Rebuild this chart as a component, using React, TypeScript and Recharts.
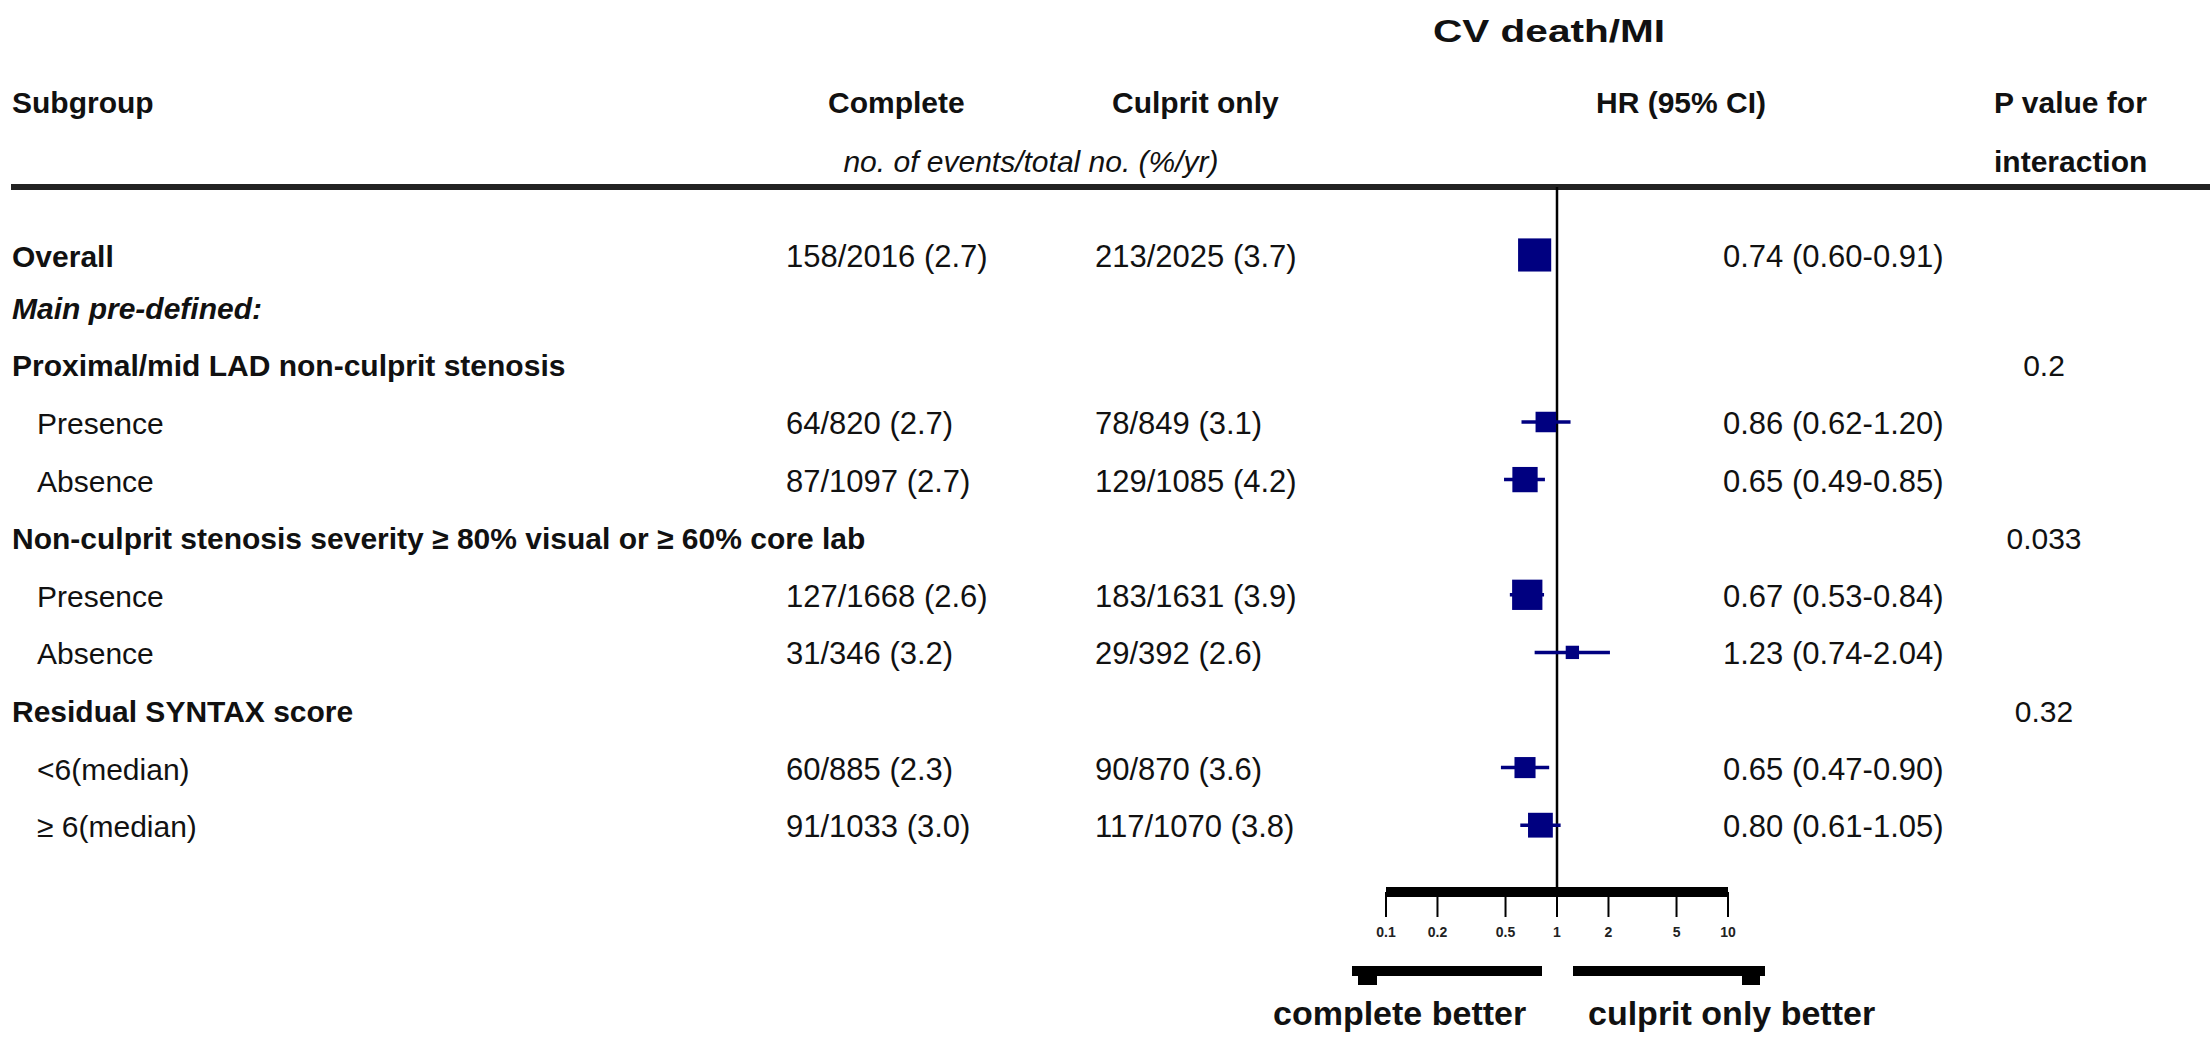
import React from "react";
import { ScatterChart, Scatter, XAxis, YAxis, ReferenceLine, ErrorBar, Customized } from "recharts";

const W = 2210;
const H = 1038;
const FONT = '"Liberation Sans", Arial, Helvetica, sans-serif';
const NAVY = "#000080";

// one entry per table row, top to bottom
const rowLabels = [
  "Overall",
  "Main pre-defined:",
  "Proximal/mid LAD non-culprit stenosis",
  "Presence",
  "Absence",
  "Non-culprit stenosis severity ≥ 80% visual or ≥ 60% core lab",
  "Presence",
  "Absence",
  "Residual SYNTAX score",
  "<6(median)",
  "≥ 6(median)",
];
const rowKind = ["bold", "italic", "bold", "sub", "sub", "bold", "sub", "sub", "bold", "sub", "sub"];
// Overall sits a little apart from the subgroup block
const rowPos = [0.1, 1, 2, 3, 4, 5, 6, 7, 8, 9, 10];

const completeEvents = [158, null, null, 64, 87, null, 127, 31, null, 60, 91];
const completeTotal = [2016, null, null, 820, 1097, null, 1668, 346, null, 885, 1033];
const completeRate = [2.7, null, null, 2.7, 2.7, null, 2.6, 3.2, null, 2.3, 3.0];

const culpritEvents = [213, null, null, 78, 129, null, 183, 29, null, 90, 117];
const culpritTotal = [2025, null, null, 849, 1085, null, 1631, 392, null, 870, 1070];
const culpritRate = [3.7, null, null, 3.1, 4.2, null, 3.9, 2.6, null, 3.6, 3.8];

const hr = [0.74, null, null, 0.86, 0.65, null, 0.67, 1.23, null, 0.65, 0.8];
const ciLow = [0.6, null, null, 0.62, 0.49, null, 0.53, 0.74, null, 0.47, 0.61];
const ciHigh = [0.91, null, null, 1.2, 0.85, null, 0.84, 2.04, null, 0.9, 1.05];

const pInteraction = ["", "", "0.2", "", "", "0.033", "", "", "0.32", "", ""];

const xTicks = [0.1, 0.2, 0.5, 1, 2, 5, 10];
const rowIdx = rowLabels.map((_, i) => i);

const points = rowIdx
  .filter((i) => hr[i] != null)
  .map((i) => ({
    row: rowPos[i],
    hr: hr[i] as number,
    err: [(hr[i] as number) - (ciLow[i] as number), (ciHigh[i] as number) - (hr[i] as number)],
    events: (completeEvents[i] as number) + (culpritEvents[i] as number),
  }));

// text rows ride on the same y scale, anchored at HR = 1
const textRows = rowIdx.map((i) => ({ row: rowPos[i], hr: 1, idx: i }));

const counts = (e: number | null, t: number | null, r: number | null) =>
  e == null ? "" : `${e}/${t} (${(r as number).toFixed(1)})`;

const hrLabel = (i: number) =>
  hr[i] == null ? "" : `${hr[i]!.toFixed(2)} (${ciLow[i]!.toFixed(2)}-${ciHigh[i]!.toFixed(2)})`;

function RowText(props: any) {
  const { cy, payload } = props;
  const i = payload.idx as number;
  const base = cy + 12;
  const kind = rowKind[i];
  const labelX = kind === "sub" ? 37 : 12;
  return (
    <g fontFamily={FONT} fill="#111">
      <text
        x={labelX}
        y={base}
        fontSize={30}
        fontWeight={kind === "sub" ? 400 : 700}
        fontStyle={kind === "italic" ? "italic" : "normal"}
      >
        {rowLabels[i]}
      </text>
      <text x={786} y={base} fontSize={31}>{counts(completeEvents[i], completeTotal[i], completeRate[i])}</text>
      <text x={1095} y={base} fontSize={31}>{counts(culpritEvents[i], culpritTotal[i], culpritRate[i])}</text>
      <text x={1723} y={base} fontSize={31}>{hrLabel(i)}</text>
      <text x={2044} y={base} fontSize={30} textAnchor="middle">{pInteraction[i]}</text>
    </g>
  );
}

function BoxShape(props: any) {
  const { cx, cy, payload } = props;
  const side = 1.72 * Math.sqrt(payload.events);
  return <rect x={cx - side / 2} y={cy - side / 2} width={side} height={side} fill={NAVY} />;
}

function Header() {
  return (
    <g fontFamily={FONT} fill="#111" fontWeight={700}>
      <text x={1433} y={42} fontSize={31} textLength={232} lengthAdjust="spacingAndGlyphs">CV death/MI</text>
      <text x={12} y={113} fontSize={30}>Subgroup</text>
      <text x={828} y={113} fontSize={30}>Complete</text>
      <text x={1112} y={113} fontSize={30}>Culprit only</text>
      <text x={1596} y={113} fontSize={30}>HR (95% CI)</text>
      <text x={1994} y={113} fontSize={30}>P value for</text>
      <text x={1994} y={172} fontSize={30}>interaction</text>
      <text x={1031} y={172} fontSize={30} fontWeight={400} fontStyle="italic" textAnchor="middle">
        no. of events/total no. (%/yr)
      </text>
      <line x1={11} x2={W} y1={187} y2={187} stroke="#222" strokeWidth={6} />
      {/* direction arrows under the axis */}
      <line x1={1352} x2={1542} y1={971} y2={971} stroke="#000" strokeWidth={10} />
      <rect x={1358} y={976} width={19} height={9} fill="#000" />
      <line x1={1573} x2={1765} y1={971} y2={971} stroke="#000" strokeWidth={10} />
      <rect x={1742} y={976} width={18} height={9} fill="#000" />
      <text x={1273} y={1025} fontSize={34}>complete better</text>
      <text x={1588} y={1025} fontSize={34}>culprit only better</text>
    </g>
  );
}

export default function App() {
  return (
    <div style={{ position: "absolute", left: 0, top: 0, width: W, height: H, background: "#fff" }}>
      <ScatterChart width={W} height={H} margin={{ top: 187, right: 482, bottom: 86, left: 1386 }}>
        <XAxis
          type="number"
          dataKey="hr"
          scale="log"
          domain={[0.1, 10]}
          ticks={xTicks}
          interval={0}
          height={60}
          tickSize={25}
          tickMargin={10}
          axisLine={{ stroke: "#000", strokeWidth: 10 }}
          tickLine={{ stroke: "#000", strokeWidth: 2 }}
          tick={{ fontSize: 14, fontWeight: 700, fill: "#222", fontFamily: FONT }}
          tickFormatter={(v) => String(v)}
        />
        <YAxis type="number" dataKey="row" domain={[-1.08, 11.16]} reversed hide />
        <ReferenceLine x={1} stroke="#000" strokeWidth={2.5} />
        <Customized component={Header} />
        <Scatter data={textRows} shape={<RowText />} isAnimationActive={false} />
        <Scatter data={points} shape={<BoxShape />} isAnimationActive={false}>
          <ErrorBar dataKey="err" direction="x" width={0} stroke={NAVY} strokeWidth={3.5} />
        </Scatter>
      </ScatterChart>
    </div>
  );
}
